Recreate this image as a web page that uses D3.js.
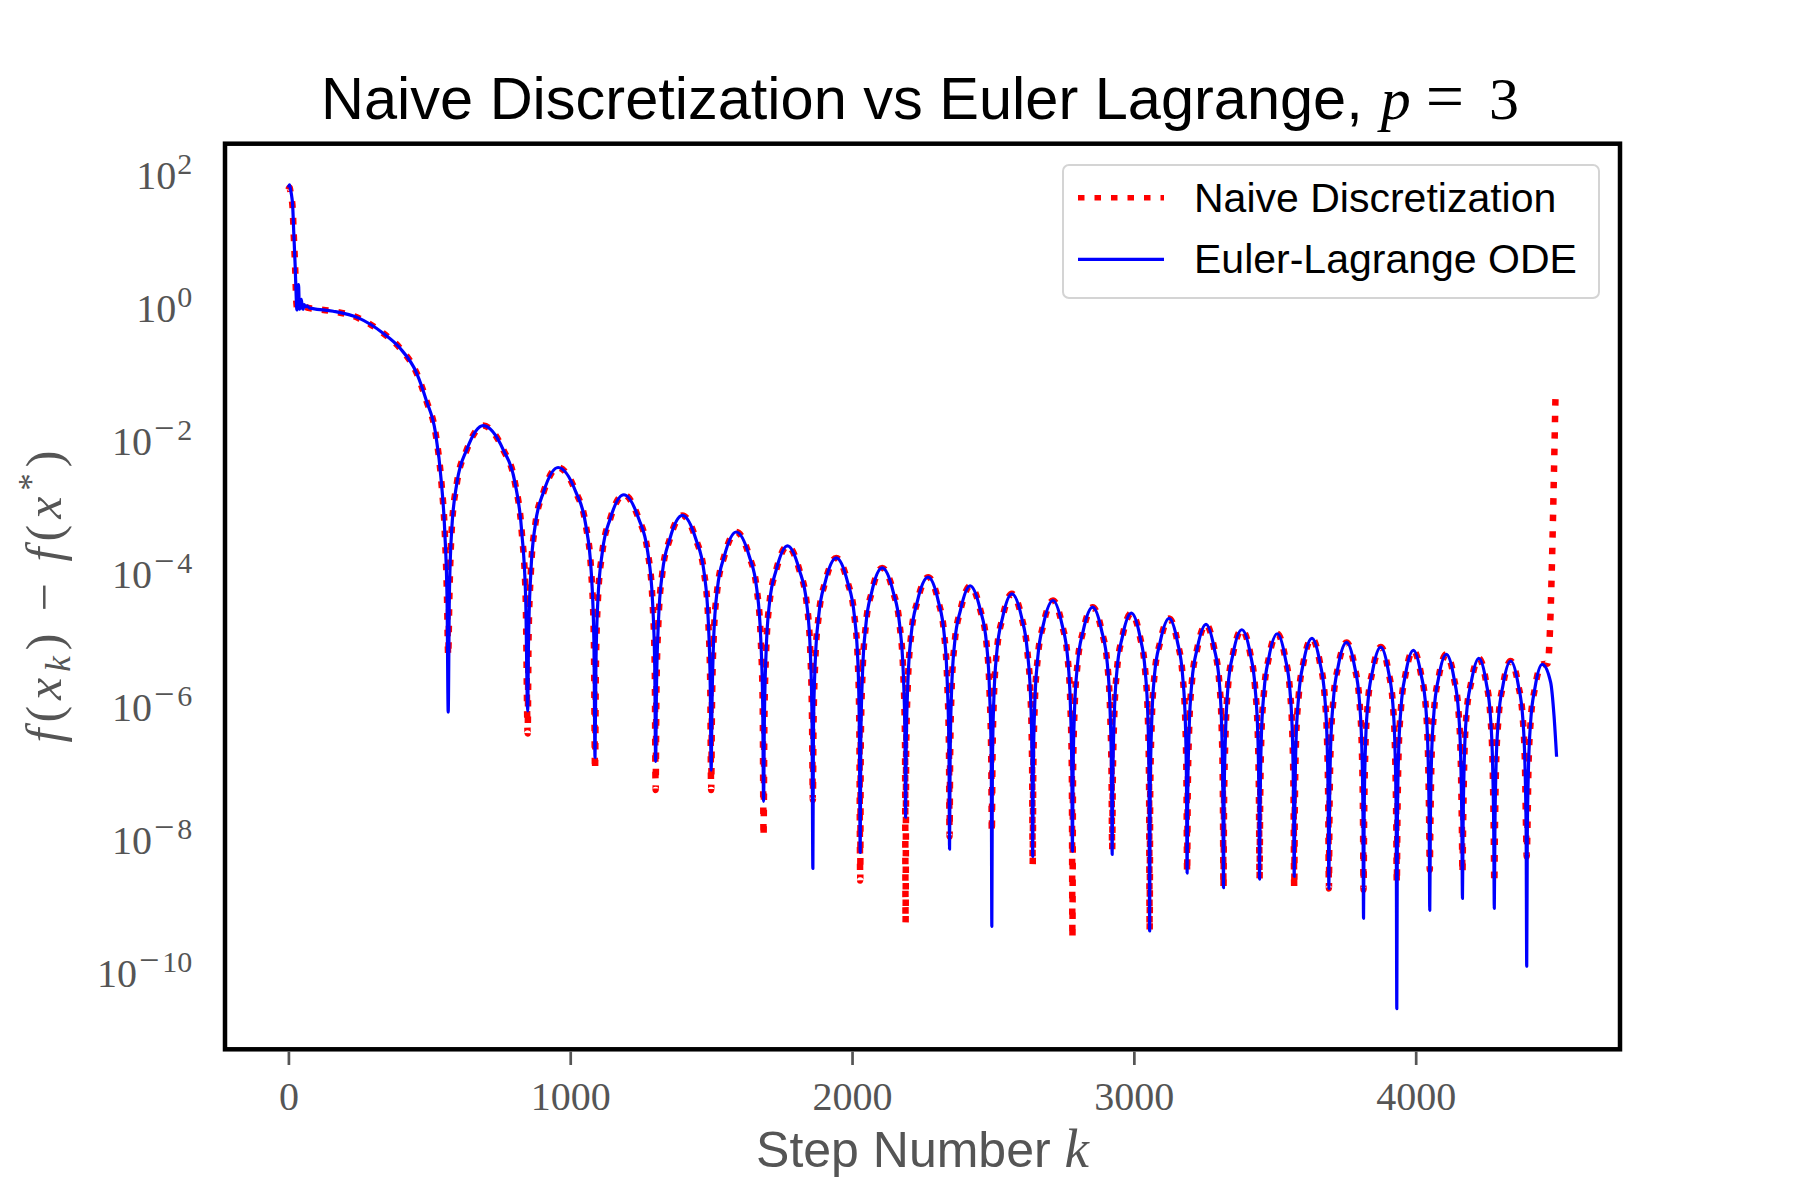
<!DOCTYPE html>
<html><head><meta charset="utf-8">
<script src="https://cdn.jsdelivr.net/npm/d3@7"></script>
<style>body{margin:0;background:#fff}</style>
</head><body>
<svg id="chart" width="1800" height="1200" xmlns="http://www.w3.org/2000/svg"></svg>
<script>
// ---------------- data (k, log10 of f(x_k)-f(x*)) ----------------
const xTicks = [0, 1000, 2000, 3000, 4000];
const yTickExps = [2, 0, -2, -4, -6, -8, -10];
const seriesNames = ["Naive Discretization", "Euler-Lagrange ODE"];

const eulerHead = [[0,1.76],[4,1.80],[8,1.72],[12,1.62],[15,1.50],[19,1.08],[24,0.58],[28,0.08],[30,-0.08],
  [33,0.12],[36,0.30],[38,0.05],[40,-0.07],[43,0.05],[46,0.08],[49,-0.04],[52,-0.07],[56,0.0],[60,-0.03],[66,-0.02],[75,-0.05]];
const naiveHead = [[0,1.73],[4,1.76],[8,1.68],[12,1.58],[15,1.45],[19,1.05],[24,0.55],[28,0.05],[31,-0.05],
  [40,-0.03],[55,-0.03],[70,-0.05]];
const sharedDecline = [[87,-0.06],[159,-0.10],[248,-0.20],[336,-0.43],[395,-0.65],[455,-1.03],[490,-1.45],
  [522,-1.93],[543,-2.68],[555,-3.43],[563,-4.44]];
const archPoints = [
  [571,-4.42],[579,-3.42],[598,-2.68],[633,-2.18],[691,-1.82],[762,-2.18],[804,-2.68],[828,-3.42],[842,-4.42],
  [852,-5.05],[860,-4.05],[876,-3.31],[906,-2.81],[957,-2.45],[1019,-2.81],[1055,-3.31],[1075,-4.05],[1084,-5.05],
  [1091,-5.46],[1098,-4.46],[1114,-3.72],[1142,-3.22],[1190,-2.86],[1243,-3.22],[1275,-3.72],[1292,-4.46],[1300,-5.46],
  [1306,-5.77],[1313,-4.77],[1327,-4.03],[1353,-3.53],[1398,-3.17],[1446,-3.53],[1475,-4.03],[1490,-4.77],[1497,-5.77],
  [1503,-6.02],[1509,-5.02],[1522,-4.28],[1547,-3.78],[1589,-3.42],[1635,-3.78],[1662,-4.28],[1676,-5.02],[1683,-6.02],
  [1689,-6.23],[1695,-5.23],[1707,-4.49],[1731,-3.99],[1771,-3.63],[1813,-3.99],[1839,-4.49],[1852,-5.23],[1858,-6.23],
  [1863,-6.41],[1869,-5.41],[1882,-4.67],[1905,-4.17],[1944,-3.81],[1984,-4.17],[2008,-4.67],[2021,-5.41],[2026,-6.41],
  [2031,-6.56],[2037,-5.56],[2049,-4.82],[2070,-4.32],[2107,-3.96],[2146,-4.32],[2169,-4.82],[2182,-5.56],[2188,-6.56],
  [2192,-6.70],[2198,-5.70],[2210,-4.96],[2232,-4.46],[2270,-4.10],[2306,-4.46],[2327,-4.96],[2338,-5.70],[2344,-6.70],
  [2348,-6.83],[2353,-5.83],[2364,-5.09],[2385,-4.59],[2419,-4.23],[2455,-4.59],[2477,-5.09],[2488,-5.83],[2494,-6.83],
  [2498,-6.95],[2503,-5.95],[2514,-5.21],[2534,-4.71],[2567,-4.35],[2602,-4.71],[2622,-5.21],[2634,-5.95],[2639,-6.95],
  [2643,-7.05],[2648,-6.05],[2659,-5.31],[2679,-4.81],[2713,-4.45],[2745,-4.81],[2765,-5.31],[2775,-6.05],[2780,-7.05],
  [2784,-7.15],[2789,-6.15],[2800,-5.41],[2820,-4.91],[2854,-4.55],[2886,-4.91],[2906,-5.41],[2916,-6.15],[2921,-7.15],
  [2925,-7.24],[2930,-6.24],[2940,-5.50],[2959,-5.00],[2991,-4.64],[3022,-5.00],[3040,-5.50],[3050,-6.24],[3054,-7.24],
  [3058,-7.32],[3063,-6.32],[3073,-5.58],[3093,-5.08],[3125,-4.72],[3155,-5.08],[3173,-5.58],[3183,-6.32],[3187,-7.32],
  [3191,-7.41],[3196,-6.41],[3206,-5.67],[3225,-5.17],[3256,-4.81],[3285,-5.17],[3303,-5.67],[3312,-6.41],[3316,-7.41],
  [3320,-7.49],[3325,-6.49],[3334,-5.75],[3352,-5.25],[3383,-4.89],[3413,-5.25],[3430,-5.75],[3440,-6.49],[3444,-7.49],
  [3448,-7.55],[3452,-6.55],[3462,-5.81],[3479,-5.31],[3509,-4.95],[3537,-5.31],[3554,-5.81],[3563,-6.55],[3567,-7.55],
  [3571,-7.62],[3575,-6.62],[3585,-5.88],[3602,-5.38],[3632,-5.02],[3660,-5.38],[3677,-5.88],[3686,-6.62],[3690,-7.62],
  [3694,-7.68],[3698,-6.68],[3708,-5.94],[3725,-5.44],[3755,-5.08],[3783,-5.44],[3800,-5.94],[3809,-6.68],[3813,-7.68],
  [3817,-7.75],[3821,-6.75],[3830,-6.01],[3847,-5.51],[3876,-5.15],[3903,-5.51],[3919,-6.01],[3927,-6.75],[3931,-7.75],
  [3935,-7.80],[3939,-6.80],[3948,-6.06],[3964,-5.56],[3992,-5.20],[4019,-5.56],[4036,-6.06],[4044,-6.80],[4048,-7.80],
  [4052,-7.86],[4056,-6.86],[4065,-6.12],[4081,-5.62],[4109,-5.26],[4136,-5.62],[4152,-6.12],[4160,-6.86],[4164,-7.86],
  [4168,-7.92],[4172,-6.92],[4180,-6.18],[4197,-5.68],[4224,-5.32],[4250,-5.68],[4265,-6.18],[4273,-6.92],[4277,-7.92],
  [4281,-7.96],[4285,-6.96],[4294,-6.22],[4310,-5.72],[4337,-5.36],[4364,-5.72],[4380,-6.22],[4388,-6.96],[4392,-7.96],
  [4396,-8.01],[4400,-7.01],[4408,-6.27],[4423,-5.77],[4449,-5.41]
];
const troughK = [567,849,1088,1303,1500,1686,1861,2029,2190,2346,2496,2641,2782,2923,3056,3189,3318,3446,3569,3692,3815,3933,4050,4166,4279,4394];
const eulerTroughExp = [-6.13,-6.11,-6.81,-6.87,-7.0,-7.47,-8.48,-8.24,-7.71,-8.19,-9.35,-8.3,-8.22,-8.27,-9.42,-8.55,-8.77,-8.64,-8.6,-8.78,-9.23,-10.59,-9.11,-8.93,-9.08,-9.95];
const naiveTroughExp = [-5.28,-6.45,-7.0,-7.3,-7.3,-8.0,-7.45,-8.66,-9.3,-8.0,-7.94,-8.43,-9.53,-8.2,-9.42,-8.54,-8.77,-8.64,-8.77,-8.78,-8.8,-8.7,-8.5,-8.55,-8.7,-8.3];
const eulerTail = [[4479,-5.68],[4491,-6.19],[4500,-6.8]];
const naiveTail = [[4468,-5.40],[4496,-1.40]];

// ---------------- build ----------------
function buildSeries(head, troughExp, tail) {
  const pts = head.concat(sharedDecline, archPoints, troughK.map((k, i) => [k, troughExp[i]]), tail);
  pts.sort((a, b) => a[0] - b[0]);
  return pts.map(([k, e]) => ({k: k, v: Math.pow(10, e)}));
}
const naive = buildSeries(naiveHead, naiveTroughExp, naiveTail);
const euler = buildSeries(eulerHead, eulerTroughExp, eulerTail);

const L = 225, R = 1620, T = 143.7, B = 1049.3;
const x = d3.scaleLinear().domain([-225, 4725]).range([L, R]);
const y = d3.scaleLog().domain([Math.pow(10, -11.2), Math.pow(10, 2.42)]).range([B, T]);

const svg = d3.select("#chart");
svg.append("rect").attr("width", 1800).attr("height", 1200).attr("fill", "#fff");

svg.append("defs").append("clipPath").attr("id", "clip")
  .append("rect").attr("x", L).attr("y", T).attr("width", R - L).attr("height", B - T);

const line = d3.line().x(d => x(d.k)).y(d => y(d.v)).curve(d3.curveMonotoneX);

const plot = svg.append("g").attr("clip-path", "url(#clip)");
plot.append("path").datum(naive).attr("d", line)
  .attr("fill", "none").attr("stroke", "#ff0000").attr("stroke-width", 6.5)
  .attr("stroke-dasharray", "6.5,10").attr("stroke-linecap", "butt");
plot.append("path").datum(euler).attr("d", line)
  .attr("fill", "none").attr("stroke", "#0000ff").attr("stroke-width", 3.2)
  .attr("stroke-linejoin", "round");

// spines
svg.append("rect").attr("x", L).attr("y", T).attr("width", R - L).attr("height", B - T)
  .attr("fill", "none").attr("stroke", "#000").attr("stroke-width", 4.5);

// x axis
const gx = svg.append("g").attr("transform", `translate(0,${B + 2.2})`)
  .call(d3.axisBottom(x).tickValues(xTicks).tickSize(13.5).tickFormat(d3.format("d")));
gx.select(".domain").remove();
gx.selectAll(".tick line").attr("stroke", "#555").attr("stroke-width", 2.7);
gx.selectAll(".tick text").attr("y", 58.5).attr("dy", 0)
  .attr("font-family", "'Liberation Serif', 'DejaVu Serif', serif").attr("font-size", 40).attr("fill", "#555");

// y axis
const gy = svg.append("g").attr("transform", `translate(${L},0)`)
  .call(d3.axisLeft(y).tickValues(yTickExps.map(e => Math.pow(10, e))).tickSize(0).tickFormat(""));
gy.select(".domain").remove();
gy.selectAll(".tick text").remove();
gy.selectAll(".tick").each(function(d) {
  const e = Math.round(Math.log10(d));
  const t = d3.select(this).append("text")
    .attr("x", -32.7).attr("y", 17).attr("text-anchor", "end")
    .attr("font-family", "'Liberation Serif', 'DejaVu Serif', serif").attr("fill", "#555");
  t.append("tspan").attr("font-size", 40).text("10");
  if (e < 0) {
    t.append("tspan").attr("font-size", 36).attr("dy", -15).attr("dx", 2).text("\u2212");
    t.append("tspan").attr("font-size", 30).attr("dx", 3).text(String(Math.abs(e)));
  } else {
    t.append("tspan").attr("font-size", 30).attr("dy", -15).attr("dx", 1).text(String(e));
  }
});

// title
const title = svg.append("text").attr("x", 321).attr("y", 118.5).attr("text-anchor", "start")
  .attr("font-size", 59.5).attr("fill", "#000").attr("font-family", "'Liberation Sans', Arial, sans-serif");
title.append("tspan").text("Naive Discretization vs Euler Lagrange,");
title.append("tspan").attr("font-family", "'Liberation Serif', serif").attr("font-style", "italic").attr("font-size", 60).attr("dx", 18).text("p");
title.append("tspan").attr("font-family", "'Liberation Serif', serif").attr("font-size", 68).attr("dx", 15).text("=");
title.append("tspan").attr("font-family", "'Liberation Serif', serif").attr("font-size", 60).attr("dx", 25).text("3");

// x label
const xl = svg.append("text").attr("x", (L + R) / 2).attr("y", 1167).attr("text-anchor", "middle")
  .attr("font-size", 50).attr("fill", "#555").attr("font-family", "'Liberation Sans', Arial, sans-serif");
xl.append("tspan").text("Step Number ");
xl.append("tspan").attr("font-family", "'Liberation Serif', serif").attr("font-style", "italic").attr("font-size", 55).text("k");

// y label
const yl = svg.append("text").attr("transform", `translate(61,${(T + B) / 2}) rotate(-90)`)
  .attr("text-anchor", "middle").attr("font-size", 50).attr("fill", "#555")
  .attr("font-family", "'Liberation Serif', serif")
  .attr("textLength", 292).attr("lengthAdjust", "spacing");
yl.append("tspan").attr("font-style", "italic").text("f");
yl.append("tspan").text("(");
yl.append("tspan").attr("font-style", "italic").text("x");
yl.append("tspan").attr("font-style", "italic").attr("font-size", 35).attr("dy", 9).text("k");
yl.append("tspan").attr("dy", -9).text(")\u2009\u2212\u2009");
yl.append("tspan").attr("font-style", "italic").text("f");
yl.append("tspan").text("(");
yl.append("tspan").attr("font-style", "italic").text("x");
yl.append("tspan").attr("font-size", 35).attr("dy", -18).text("*");
yl.append("tspan").attr("dy", 18).text(")");

// legend
const lg = svg.append("g");
lg.append("rect").attr("x", 1063).attr("y", 165).attr("width", 536).attr("height", 133).attr("rx", 6)
  .attr("fill", "#fff").attr("fill-opacity", 0.8).attr("stroke", "#d4d4d4").attr("stroke-width", 2);
const legendRows = [
  {name: seriesNames[0], y: 197.7, color: "#ff0000", w: 5.5, dash: "6.5,10"},
  {name: seriesNames[1], y: 259.3, color: "#0000ff", w: 3.2, dash: null}
];
legendRows.forEach(r => {
  lg.append("line").attr("x1", 1078).attr("x2", 1164).attr("y1", r.y).attr("y2", r.y)
    .attr("stroke", r.color).attr("stroke-width", r.w).attr("stroke-dasharray", r.dash);
  lg.append("text").attr("x", 1194).attr("y", r.y + 14).attr("font-size", 41)
    .attr("font-family", "'Liberation Sans', Arial, sans-serif").attr("fill", "#000").text(r.name);
});
</script>
</body></html>
